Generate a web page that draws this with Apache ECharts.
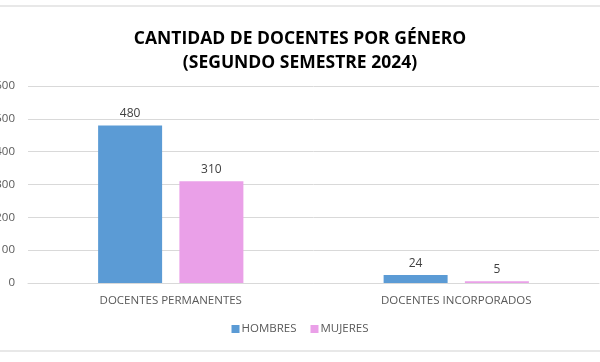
<!DOCTYPE html>
<html><head><meta charset="utf-8">
<script src="https://cdn.jsdelivr.net/npm/echarts@6/dist/echarts.min.js"></script>
<style>html,body{margin:0;padding:0;background:#fff}#c{width:600px;height:362px}</style>
</head><body><div id="c"></div>
<script>
const categories = ['DOCENTES PERMANENTES', 'DOCENTES INCORPORADOS'];
const hombres = [480, 24];
const mujeres = [310, 5];
const seriesNames = ['HOMBRES', 'MUJERES'];
const titleText = 'CANTIDAD DE DOCENTES POR GÉNERO\n(SEGUNDO SEMESTRE 2024)';

const chart = echarts.init(document.getElementById('c'));
const font = '"Open Sans", sans-serif';
chart.setOption({
  animation: false,
  textStyle: { fontFamily: font },
  title: {
    text: titleText, left: 'center', top: 22,
    textStyle: { fontFamily: font, fontWeight: 'bold', fontSize: 17.5, color: '#000', lineHeight: 24 }
  },
  legend: {
    bottom: 22, left: 'center', itemWidth: 8, itemHeight: 8, itemGap: 14,
    icon: 'rect',
    textStyle: { color: '#595959', fontSize: 11.5, padding: [0, 0, 0, -3] },
    data: seriesNames
  },
  grid: { left: 28, right: 1, top: 86, bottom: 79, containLabel: false, outerBoundsMode: 'none' },
  xAxis: {
    type: 'category', data: categories,
    axisLine: { lineStyle: { color: '#d9d9d9' } },
    axisTick: { show: false },
    axisLabel: { color: '#595959', fontSize: 11.5, margin: 12 }
  },
  yAxis: {
    type: 'value', min: 0, max: 600, interval: 100,
    axisLine: { show: false }, axisTick: { show: false },
    splitLine: { lineStyle: { color: '#d9d9d9' } },
    axisLabel: { color: '#595959', fontSize: 11.5, margin: 13 }
  },
  graphic: [
    { type: 'line', shape: { x1: 0, y1: 6, x2: 600, y2: 6 }, style: { stroke: '#e0e0e0', lineWidth: 1.5 } },
    { type: 'line', shape: { x1: 0, y1: 351, x2: 600, y2: 351 }, style: { stroke: '#e0e0e0', lineWidth: 1.5 } }
  ],
  series: [
    { name: seriesNames[0], type: 'bar', data: hombres, barWidth: 64, barGap: '27%',
      itemStyle: { color: '#5B9BD5' },
      label: { show: true, position: 'top', color: '#404040', fontSize: 12, distance: 6 } },
    { name: seriesNames[1], type: 'bar', data: mujeres, barWidth: 64,
      itemStyle: { color: '#EAA0E8' },
      label: { show: true, position: 'top', color: '#404040', fontSize: 12, distance: 6 } }
  ]
});
</script></body></html>
